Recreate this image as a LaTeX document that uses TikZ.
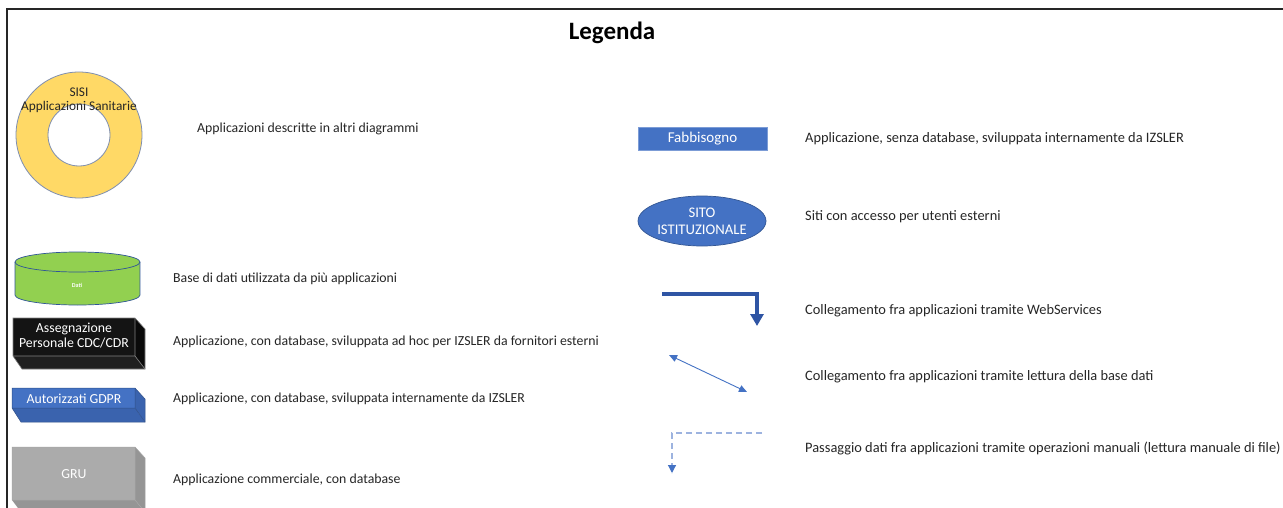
\documentclass[tikz,border=0pt]{standalone}
\usepackage{fontspec}
\setmainfont{Carlito}
\usetikzlibrary{arrows.meta,shapes.geometric}
\definecolor{txt}{HTML}{262626}
\definecolor{ringfill}{HTML}{FFD966}
\definecolor{ringedge}{HTML}{7F8FB0}
\definecolor{dbgreen}{HTML}{92D050}
\definecolor{dbedge}{HTML}{2F5597}
\definecolor{appblue}{HTML}{4472C4}
\definecolor{appbluedark}{HTML}{3A63AE}
\definecolor{wsblue}{HTML}{2F55A4}
\definecolor{manblue}{HTML}{9DB3DF}
\definecolor{grufront}{HTML}{ABABAB}
\definecolor{gruside}{HTML}{959595}
\tikzset{
  desc/.style={anchor=west,inner sep=0pt,text=txt,font=\fontsize{13.8}{16}\selectfont},
  descr/.style={anchor=west,inner sep=0pt,text=txt,font=\fontsize{14.4}{16}\selectfont},
  whitelbl/.style={text=white,font=\fontsize{13.8}{16}\selectfont,align=center,inner sep=0pt},
}
\begin{document}
\begin{tikzpicture}[x=1pt,y=-1pt]
\useasboundingbox (0,0) rectangle (1283,508);
\fill[white] (0,0) rectangle (1283,508);
% frame
\coordinate (fbl) at (7,508);
\coordinate (ftl) at (7,9);
\coordinate (ftr) at (1283,9);
\draw[line width=2pt,black!85] (fbl) -- (ftl) -- (ftr);
% title
\node[font=\fontsize{25}{28}\selectfont\bfseries,text=black] (title) at (612,33) {Legenda};

% ring
\fill[ringfill,even odd rule] (79,135) circle[radius=63] (79,135) circle[radius=31];
\draw[ringedge,line width=0.8pt] (79,135) circle[radius=63];
\draw[ringedge,line width=0.8pt] (79,135) circle[radius=31];
\node[inner sep=0pt,text=txt,font=\fontsize{13.3}{15}\selectfont,align=center] (sisi) at (79,100.5) {SISI\\[-1pt]Applicazioni Sanitarie};
\node[desc] (d1) at (197,128.5) {Applicazioni descritte in altri diagrammi};

% database cylinder
\fill[dbgreen] (15,262) rectangle (140,295);
\fill[dbgreen] (77.5,295) ellipse[x radius=62.5,y radius=10];
\fill[dbgreen] (77.5,262) ellipse[x radius=62.5,y radius=10];
\draw[dbedge,line width=0.7pt] (15,262) -- (15,295) arc[start angle=180,end angle=0,x radius=62.5,y radius=10] -- (140,262);
\draw[dbedge,line width=0.7pt] (77.5,262) ellipse[x radius=62.5,y radius=10];
\node[text=white,font=\fontsize{6}{7}\selectfont\bfseries,inner sep=0pt] (dati) at (77,285) {Dati};
\node[desc] (d2) at (173,278.5) {Base di dati utilizzata da più applicazioni};

% black cube
\fill[black!92] (13,318) rectangle (135,356);
\fill[black!96] (135,318) -- (145,329) -- (145,369) -- (135,356) -- cycle;
\fill[black!88] (13,356) -- (135,356) -- (145,369) -- (22,369) -- cycle;
\draw[black!50,line width=0.6pt] (13,318) -- (135,318) -- (145,329) -- (145,369) -- (22,369) -- (13,356) -- cycle;
\draw[black!50,line width=0.6pt] (13,356) -- (135,356) -- (135,318) (135,356) -- (145,369);
\node[whitelbl] (asseg) at (74,336) {Assegnazione\\[-1pt]Personale CDC/CDR};
\node[desc] (d3) at (173,341.5) {Applicazione, con database, sviluppata ad hoc per IZSLER da fornitori esterni};

% blue cube
\fill[appblue] (12,388) rectangle (135,408);
\fill[appbluedark] (135,388) -- (145,399) -- (145,422) -- (135,408) -- cycle;
\fill[appbluedark] (12,408) -- (135,408) -- (145,422) -- (21,422) -- cycle;
\draw[appblue!70!black,line width=0.5pt] (12,388) -- (135,388) -- (145,399) -- (145,422) -- (21,422) -- (12,408) -- cycle;
\draw[appblue!70!black,line width=0.5pt] (12,408) -- (135,408) -- (135,388) (135,408) -- (145,422);
\node[whitelbl] (gdpr) at (74,399) {Autorizzati GDPR};
\node[desc] (d4) at (173,398.5) {Applicazione, con database, sviluppata internamente da IZSLER};

% gray cube
\fill[grufront] (12,447) rectangle (135,500);
\fill[gruside] (135,447) -- (145,458) -- (145,512) -- (135,500) -- cycle;
\fill[gruside] (12,500) -- (135,500) -- (145,512) -- (21,512) -- cycle;
\draw[black!35,line width=0.5pt] (12,500) -- (12,447) -- (135,447) -- (145,458) -- (145,512);
\draw[black!35,line width=0.5pt] (12,500) -- (135,500) -- (135,447) (135,500) -- (145,512);
\node[whitelbl] (gru) at (74,474) {GRU};
\node[desc] (d5) at (173,479.5) {Applicazione commerciale, con database};

% Fabbisogno
\node[draw=appblue!70,fill=appblue,minimum width=129pt,minimum height=23pt,inner sep=0pt,text=white,font=\fontsize{15}{16}\selectfont] (fabb) at (702.5,139) {\raisebox{-1.5pt}{Fabbisogno}};
\node[descr] (d6) at (805,138.5) {Applicazione, senza database, sviluppata internamente da IZSLER};

% Sito istituzionale
\node[ellipse,draw=appblue!75!black,line width=0.7pt,fill=appblue,minimum width=128pt,minimum height=50pt,inner sep=0pt,whitelbl,font=\fontsize{14.7}{16}\selectfont] (sito) at (702,221) {SITO\\[1pt]ISTITUZIONALE};
\node[descr] (d7) at (805,216.5) {Siti con accesso per utenti esterni};

% WebServices arrow
\coordinate (ws1) at (662,294);
\coordinate (ws2) at (757,294);
\coordinate (ws3) at (757,326);
\draw[wsblue,line width=3.8pt,-{Triangle[length=12pt,width=13pt]}] (ws1) -- (ws2) -- (ws3);
\node[descr] (d8) at (805,310.5) {Collegamento fra applicazioni tramite WebServices};

% DB reading arrow
\coordinate (db1) at (669,355);
\coordinate (db2) at (747,392);
\draw[appblue,line width=0.9pt,{Triangle[length=8pt,width=7pt]}-{Triangle[length=8pt,width=7pt]}] (db1) -- (db2);
\node[descr] (d9) at (805,376.5) {Collegamento fra applicazioni tramite lettura della base dati};

% Manual arrow
\coordinate (m1) at (762,433);
\coordinate (m2) at (672,433);
\coordinate (m3) at (672,473);
\coordinate (m4) at (672,470);
\draw[manblue,line width=1.4pt,dash pattern=on 6pt off 4pt] (m1) -- (m2) -- (m3);
\draw[appblue,line width=1.2pt,-{Triangle[length=8pt,width=8pt]}] (m4) -- (m3);
\node[descr] (d10) at (805,448.5) {Passaggio dati fra applicazioni tramite operazioni manuali (lettura manuale di file)};
\end{tikzpicture}
\end{document}
